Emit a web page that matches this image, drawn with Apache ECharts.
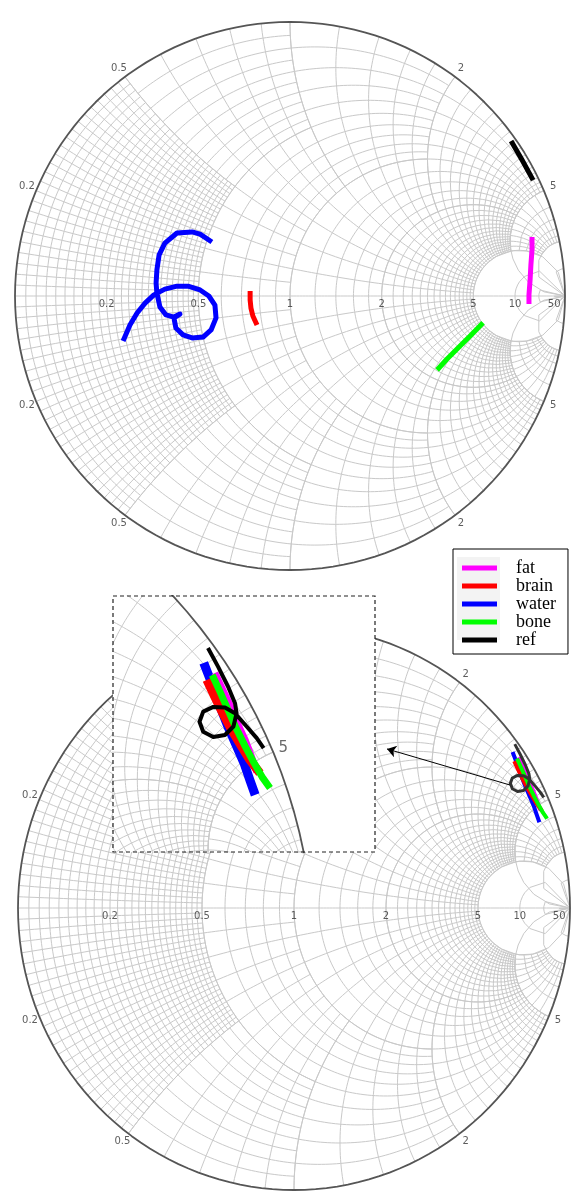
<!DOCTYPE html>
<html>
<head>
<meta charset="utf-8">
<script src="https://cdn.jsdelivr.net/npm/echarts@6/dist/echarts.min.js"></script>
<style>
  html, body { margin: 0; padding: 0; background: #fff; }
  #chart { width: 584px; height: 1196px; }
</style>
</head>
<body>
<div id="chart"></div>
<script>
// ---- Data: reflection coefficient traces [Re Γ, Im Γ] ----
// Upper chart
const fatUpper   = [[0.880,0.215],[0.880,0.168],[0.876,0.113],[0.873,0.058],[0.869,0.004],[0.869,-0.029]];
const brainUpper = [[-0.145,0.018],[-0.145,-0.015],[-0.142,-0.044],[-0.135,-0.073],[-0.120,-0.106]];
const waterUpper = [[-0.284,0.197],[-0.327,0.226],[-0.356,0.234],[-0.411,0.230],[-0.455,0.193],[-0.476,0.150],
  [-0.484,0.095],[-0.487,0.047],[-0.484,0.011],[-0.473,-0.040],[-0.451,-0.069],[-0.422,-0.077],[-0.400,-0.066],
  [-0.422,-0.080],[-0.415,-0.117],[-0.389,-0.142],[-0.356,-0.153],[-0.316,-0.150],[-0.287,-0.124],[-0.269,-0.080],
  [-0.273,-0.033],[-0.295,0.000],[-0.327,0.022],[-0.371,0.036],[-0.411,0.036],[-0.455,0.025],[-0.495,0.004],
  [-0.527,-0.026],[-0.556,-0.062],[-0.582,-0.106],[-0.607,-0.164]];
const boneUpper  = [[0.702,-0.098],[0.655,-0.146],[0.611,-0.190],[0.571,-0.230],[0.535,-0.270]];
const refUpper   = [[0.804,0.566],[0.844,0.496],[0.884,0.423]];

// Lower chart (also shown magnified in the detail box)
const fatLower   = [[0.813,0.534],[0.828,0.502],[0.842,0.472],[0.855,0.440],[0.870,0.408],[0.881,0.379],[0.892,0.347]];
const brainLower = [[0.798,0.521],[0.813,0.489],[0.828,0.458],[0.845,0.426],[0.862,0.398],[0.879,0.370],[0.898,0.345]];
const waterLower = [[0.792,0.553],[0.808,0.512],[0.823,0.470],[0.838,0.432],[0.853,0.398],[0.868,0.364],[0.879,0.332],[0.889,0.304]];
const boneLower  = [[0.808,0.530],[0.823,0.498],[0.838,0.464],[0.853,0.430],[0.870,0.396],[0.887,0.364],[0.902,0.338],[0.917,0.317]];
const refLower   = [[0.800,0.581],[0.819,0.546],[0.838,0.508],[0.851,0.477],[0.854,0.458],[0.848,0.433],[0.832,0.417],
  [0.810,0.413],[0.791,0.423],[0.784,0.442],[0.791,0.461],[0.810,0.470],[0.832,0.469],[0.851,0.458],[0.873,0.433],
  [0.892,0.411],[0.905,0.392]];

// Arrow from the trace cluster towards the detail box (Γ coordinates)
const arrowFrom = [0.783, 0.436];
const arrowTo   = [0.337, 0.564];

// Tick values
const realTicks = [0.2, 0.5, 1, 2, 5, 10, 50];
const imagTicks = [0.2, 0.5, 1, 2, 5, 10, 50];
const legendNames = ['fat', 'brain', 'water', 'bone', 'ref'];

// ---- Smith grid layout: [r0, r1, dr, x0, x1, dx] blocks ----
const gridBlocks = [
  [0, 0.5, 0.02, 0, 0.5, 0.02],
  [0, 0.5, 0.05, 0.5, 1, 0.1],
  [0.5, 1, 0.1, 0, 1, 0.1],
  [0, 1, 0.1, 1, 2, 0.2],
  [1, 2, 0.2, 0, 2, 0.2],
  [0, 2, 0.2, 2, 5, 0.2],
  [2, 5, 0.2, 0, 5, 0.2],
  [0, 5, 0.5, 5, 10, 1]
];
const fullR = [5, 10, 20, 50];
const fullX = [0, 5, 10, 20, 50];

const COLORS = { fat: '#ff00ff', brain: '#ff0000', water: '#0000ff', bone: '#00ff00', ref: '#000000' };

// z -> Γ
function gam(r, x) {
  const d = (r + 1) * (r + 1) + x * x;
  return [(r * r + x * x - 1) / d, (2 * x) / d];
}
function tanc(t) {
  if (t >= Math.PI / 2 - 1e-9) return 1e7;
  if (t <= -Math.PI / 2 + 1e-9) return -1e7;
  return Math.tan(t);
}
function atanc(v) { return v >= 1e6 ? Math.PI / 2 : (v <= -1e6 ? -Math.PI / 2 : Math.atan(v)); }

function sampleCurve(fn, t0, t1, scale) {
  let len = 0, prev = fn(t0);
  for (let i = 1; i <= 16; i++) {
    const p = fn(t0 + (t1 - t0) * i / 16);
    len += Math.hypot(p[0] - prev[0], p[1] - prev[1]);
    prev = p;
  }
  const n = Math.max(2, Math.min(160, Math.ceil(len * scale / 4)));
  const pts = [];
  for (let i = 0; i <= n; i++) pts.push(fn(t0 + (t1 - t0) * i / n));
  return pts;
}
function rArc(r, xa, xb, scale) { // constant resistance, reactance from xa to xb
  return sampleCurve(t => gam(r, tanc(t)), atanc(xa), atanc(xb), scale);
}
function xArc(x, ra, rb, scale) { // constant reactance, resistance from ra to rb
  return sampleCurve(t => gam(tanc(t), x), atanc(ra), atanc(rb), scale);
}

function buildGrid(scale) {
  const out = [];
  const push = pts => { for (const p of pts) out.push(p); out.push(['-', '-']); };
  const steps = (a, b, s) => {
    const n = Math.round((b - a) / s), v = [];
    for (let i = 0; i <= n; i++) v.push(Math.round((a + i * s) * 1e9) / 1e9);
    return v;
  };
  for (const [r0, r1, dr, x0, x1, dx] of gridBlocks) {
    for (const r of steps(r0, r1, dr)) {
      if (r === 0) continue;
      push(rArc(r, x0, x1, scale));
      push(rArc(r, -x1, -x0, scale));
    }
    for (const x of steps(x0, x1, dx)) {
      if (x === 0) continue;
      push(xArc(x, r0, r1, scale));
      push(xArc(-x, r0, r1, scale));
    }
  }
  for (const r of fullR) push(rArc(r, -1e7, 1e7, scale));
  for (const x of fullX) {
    push(xArc(x, 0, 1e7, scale));
    if (x !== 0) push(xArc(-x, 0, 1e7, scale));
  }
  return out;
}

function tickLabels(sx, sy) {
  const items = [{ value: [-1 - 7 / sx, 0], label: { formatter: '0' } }];
  for (const v of imagTicks) {
    for (const s of [1, -1]) {
      const g = gam(0, s * v);
      const a = Math.atan2(g[1], g[0]);
      items.push({ value: [g[0] + 10 * Math.cos(a) / sx, g[1] + 10 * Math.sin(a) / sy], label: { formatter: String(v) } });
    }
  }
  for (const v of realTicks) {
    const g = gam(v, 0);
    items.push({ value: [g[0], -8 / sy], label: { formatter: String(v) } });
  }
  return items;
}

function smithBase(gi, sx, sy, z, clip, withLabels) {
  const list = [
    {
      type: 'line', xAxisIndex: gi, yAxisIndex: gi, data: buildGrid(Math.max(sx, sy)),
      showSymbol: false, symbol: 'none', silent: true, clip: clip, z: z,
      lineStyle: { color: '#c9c9c9', width: 1 }, connectNulls: false
    },
    {
      type: 'line', xAxisIndex: gi, yAxisIndex: gi, data: rArc(0, -1e7, 1e7, Math.max(sx, sy)),
      showSymbol: false, symbol: 'none', silent: true, clip: clip, z: z,
      lineStyle: { color: '#555555', width: 1.8 }
    }
  ];
  if (withLabels) {
    list.push({
      type: 'scatter', xAxisIndex: gi, yAxisIndex: gi, data: tickLabels(sx, sy),
      symbolSize: 1, itemStyle: { color: 'rgba(0,0,0,0)' }, silent: true, z: z + 1,
      label: { show: true, position: 'inside', color: '#333', fontSize: 10, fontFamily: 'DejaVu Sans' }
    });
  }
  return list;
}

function trace(name, data, gi, width, z, clip, color) {
  const c = color || COLORS[name];
  return {
    type: 'line', name: name, xAxisIndex: gi, yAxisIndex: gi, data: data,
    showSymbol: false, symbol: 'none', silent: true, clip: clip, z: z,
    itemStyle: { color: c }, lineStyle: { color: c, width: width, cap: 'butt', join: 'round' }
  };
}

// Detail box geometry (pixels) and its Γ window
const box = { left: 113, top: 596, width: 262, height: 256 };
const boxX = [0.6208, 1.1151];
const boxY = [0.1962, 0.6792];

const series = [];
// Upper chart (grid 0)
series.push(...smithBase(0, 275, 274, 1, false, true));
series.push(trace('bone', boneUpper, 0, 5, 3, false));
series.push(trace('water', waterUpper, 0, 5, 3, false));
series.push(trace('brain', brainUpper, 0, 5, 3, false));
series.push(trace('fat', fatUpper, 0, 5, 3, false));
series.push(trace('ref', refUpper, 0, 5, 3, false));

// Lower chart (grid 1)
series.push(...smithBase(1, 276, 282, 1, false, true));
series.push(trace('water', waterLower, 1, 4, 3, false));
series.push(trace('fat', fatLower, 1, 4, 3, false));
series.push(trace('brain', brainLower, 1, 4, 3, false));
series.push(trace('bone', boneLower, 1, 4, 3, false));
series.push(trace('ref', refLower, 1, 3, 3, false, '#333333'));
series.push({
  type: 'lines', coordinateSystem: 'cartesian2d', xAxisIndex: 1, yAxisIndex: 1, silent: true, z: 4,
  symbol: ['none', 'arrow'], symbolSize: 9,
  lineStyle: { color: '#000', width: 1, opacity: 1, curveness: 0 },
  data: [{ coords: [arrowFrom, arrowTo] }]
});

// Detail box (grid 2)
const insetScale = box.width / (boxX[1] - boxX[0]);
series.push(...smithBase(2, insetScale, insetScale, 60, true, false));
const g5 = gam(0, 5), a5 = Math.atan2(g5[1], g5[0]);
series.push({
  type: 'scatter', xAxisIndex: 2, yAxisIndex: 2, silent: true, z: 62, symbolSize: 1,
  itemStyle: { color: 'rgba(0,0,0,0)' },
  data: [{ value: [g5[0] + 11 * Math.cos(a5) / insetScale, g5[1] + 11 * Math.sin(a5) / insetScale] }],
  label: { show: true, position: 'inside', formatter: '5', color: '#444', fontSize: 15, fontFamily: 'DejaVu Sans' }
});
series.push(trace('water', waterLower, 2, 9, 63, true));
series.push(trace('fat', fatLower, 2, 7, 63, true));
series.push(trace('brain', brainLower, 2, 9, 63, true));
series.push(trace('bone', boneLower, 2, 7, 63, true));
series.push(trace('ref', refLower, 2, 4, 63, true));

const chart = echarts.init(document.getElementById('chart'), null, { renderer: 'canvas' });
chart.setOption({
  animation: false,
  backgroundColor: '#ffffff',
  grid: [
    { left: 15, top: 22, width: 550, height: 548 },
    { left: 18, top: 626, width: 552, height: 564 },
    { left: box.left, top: box.top, width: box.width, height: box.height }
  ],
  xAxis: [
    { gridIndex: 0, type: 'value', min: -1, max: 1, show: false },
    { gridIndex: 1, type: 'value', min: -1, max: 1, show: false },
    { gridIndex: 2, type: 'value', min: boxX[0], max: boxX[1], show: false }
  ],
  yAxis: [
    { gridIndex: 0, type: 'value', min: -1, max: 1, show: false },
    { gridIndex: 1, type: 'value', min: -1, max: 1, show: false },
    { gridIndex: 2, type: 'value', min: boxY[0], max: boxY[1], show: false }
  ],
  legend: {
    data: legendNames, orient: 'vertical', left: 453, top: 549,
    icon: 'rect', itemWidth: 35, itemHeight: 5, itemGap: 0,
    padding: [10, 12, 5, 9], borderColor: '#000', borderWidth: 1, borderRadius: 0,
    backgroundColor: 'rgba(0,0,0,0)', selectedMode: false, z: 10,
    itemStyle: { borderWidth: 0 },
    textStyle: { fontFamily: 'Liberation Serif', fontSize: 18, color: '#000', lineHeight: 16, padding: [0, 0, 0, 14] }
  },
  graphic: {
    elements: [
      { type: 'rect', z: 3, silent: true, shape: { x: 457, y: 557, width: 43, height: 83 }, style: { fill: '#f3f3f3' } },
      { type: 'rect', z: 50, silent: true, shape: { x: box.left, y: box.top, width: box.width, height: box.height }, style: { fill: '#ffffff' } },
      { type: 'rect', z: 70, silent: true, shape: { x: box.left, y: box.top, width: box.width, height: box.height },
        style: { fill: 'none', stroke: '#222', lineWidth: 1.2, lineDash: [4, 3] } }
    ]
  },
  series: series
});
</script>
</body>
</html>
